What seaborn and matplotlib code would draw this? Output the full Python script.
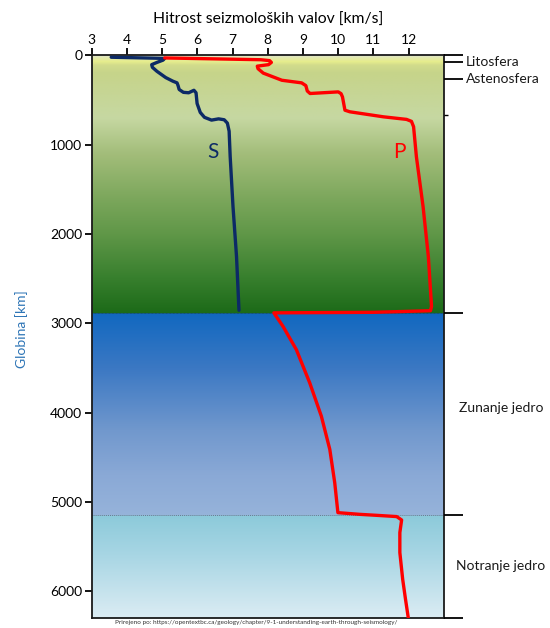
import numpy as np
import pandas as pd
import matplotlib
matplotlib.use("Agg")
import matplotlib.pyplot as plt
import matplotlib.transforms as mtransforms
from matplotlib.colors import to_rgb
import seaborn as sns

# S-wave velocity profile (km/s vs depth km)
s_vel = [3.55, 5.07, 5.02, 4.85, 4.70, 4.72, 4.85, 5.10, 5.30, 5.42, 5.45, 5.48, 5.60, 5.75, 5.90,
         5.96, 5.99, 6.08, 6.20, 6.40, 6.60, 6.76, 6.85, 6.90, 6.93, 7.01, 7.11, 7.18]
s_depth = [22, 35, 55, 80, 105, 135, 180, 250, 290, 309, 340, 383, 415, 420, 392,
           420, 540, 640, 695, 726, 712, 722, 760, 850, 1136, 1695, 2254, 2855]

# P-wave velocity profile
p_vel = [5.07, 7.80, 8.05, 8.10, 8.02, 7.70, 7.72, 7.87, 8.40, 8.96, 9.08, 9.12, 9.20, 10.00, 10.08,
         10.12, 10.19, 10.33, 11.28, 11.94, 12.08, 12.14, 12.22, 12.41, 12.56, 12.65, 12.62, 11.00,
         8.17, 8.43, 8.81, 9.19, 9.52, 9.76, 9.90, 9.99,
         10.61, 11.09, 11.66, 11.80, 11.75, 11.75, 11.83, 11.91, 11.99]
p_depth = [30, 50, 60, 80, 105, 122, 150, 200, 280, 309, 340, 400, 428, 410, 430,
           466, 615, 633, 689, 718, 740, 800, 1136, 1695, 2254, 2812, 2860, 2878,
           2884, 3035, 3296, 3668, 4041, 4413, 4786, 5121,
           5140, 5151, 5165, 5203, 5344, 5568, 5866, 6089, 6300]

x_ticks = [3, 4, 5, 6, 7, 8, 9, 10, 11, 12]
y_ticks = [0, 1000, 2000, 3000, 4000, 5000, 6000]

# layer boundaries (km) and names on the right side
cmb = 2890
icb = 5150
bottom = 6300
layer_ticks = [0, 80, 270, cmb, icb, bottom]
layer_names = ["Litosfera", "Astenosfera", "Zunanje jedro", "Notranje jedro"]
layer_label_depth = [75, 265, 3950, 5720]

# background gradient stops (depth, colour)
bg_stops = [
    (0, "#dfe5cc"), (40, "#e4eaa2"), (70, "#e7ed8c"), (110, "#d2dc8c"), (200, "#c6d48a"),
    (700, "#c6d8a2"), (1100, "#a3bd7a"), (1600, "#7ca75c"), (2000, "#609748"), (2500, "#377f2d"),
    (2889, "#1c6a18"), (2891, "#1168c0"), (3500, "#3b78c3"), (4200, "#7198cd"), (4700, "#8aa9d6"),
    (5149, "#96b3da"), (5151, "#8ccada"), (5600, "#a8d6e4"), (6300, "#dbecf3"),
]

fig = plt.figure(figsize=(5.5, 6.28), dpi=100)
ax = fig.add_axes([0.167, 0.016, 0.640, 0.896])

# gradient background
depths = np.linspace(0, bottom, 1260)
pos = [d for d, c in bg_stops]
cols = np.array([to_rgb(c) for d, c in bg_stops])
img = np.stack([np.interp(depths, pos, cols[:, i]) for i in range(3)], axis=-1)[:, None, :]
ax.imshow(img, extent=[3, 13, bottom, 0], aspect="auto", interpolation="bilinear", zorder=0)
ax.axhline(icb, color="#6b7890", lw=0.7, ls=(0, (1, 1)), zorder=1)
ax.axhline(cmb, color="#1c3c5c", lw=0.5, ls=(0, (1, 1)), zorder=1)

line_kw = dict(sort=False, estimator=None, lw=2.4, solid_joinstyle="round", solid_capstyle="round", zorder=3)
sns.lineplot(x=s_vel, y=s_depth, color="#0c2a66", ax=ax, **line_kw)
sns.lineplot(x=p_vel, y=p_depth, color="#ff0000", ax=ax, **line_kw)

font = "Lato"
ax.text(6.45, 1080, "S", color="#0c2a66", fontsize=15, ha="center", va="center", family=font)
ax.text(11.75, 1080, "P", color="#ff0000", fontsize=15, ha="center", va="center", family=font)

ax.set_xlim(3, 13)
ax.set_ylim(bottom, 0)
ax.xaxis.tick_top()
ax.xaxis.set_label_position("top")
ax.set_xticks(x_ticks)
ax.set_yticks(y_ticks)
ax.set_xlabel("Hitrost seizmoloških valov [km/s]", fontsize=11.3, family=font, labelpad=7)
ax.set_ylabel("Globina [km]", fontsize=10, family=font, color="#2e75b6")
ax.yaxis.set_label_coords(-0.18, 0.513)
ax.tick_params(axis="both", labelsize=10, length=5, width=1.3, direction="out", pad=2)
for lab in ax.get_xticklabels() + ax.get_yticklabels():
    lab.set_family(font)
for sp in ax.spines.values():
    sp.set_linewidth(1.3)
    sp.set_color("#1a1a1a")

# right axis with layer boundaries
rax = ax.twinx()
rax.set_ylim(bottom, 0)
rax.set_yticks(layer_ticks)
rax.set_yticklabels([])
rax.set_yticks([670], minor=True)
rax.tick_params(axis="y", length=14, width=1.3, direction="out")
rax.tick_params(axis="y", which="minor", length=3, width=1.0)
for sp in rax.spines.values():
    sp.set_visible(False)

trans = mtransforms.blended_transform_factory(ax.transAxes, ax.transData)
xoffs = [1.063, 1.063, 1.043, 1.034]
for name, d, xo in zip(layer_names, layer_label_depth, xoffs):
    ax.text(xo, d, name, transform=trans, fontsize=10, family=font, va="center", ha="left", color="#1a1a1a")

fig.text(0.466, 0.004, "Prirejeno po: https://opentextbc.ca/geology/chapter/9-1-understanding-earth-through-seismology/",
         fontsize=4.6, ha="center", va="bottom", family=font, color="#333333")

fig.savefig("out.png", dpi=100)
